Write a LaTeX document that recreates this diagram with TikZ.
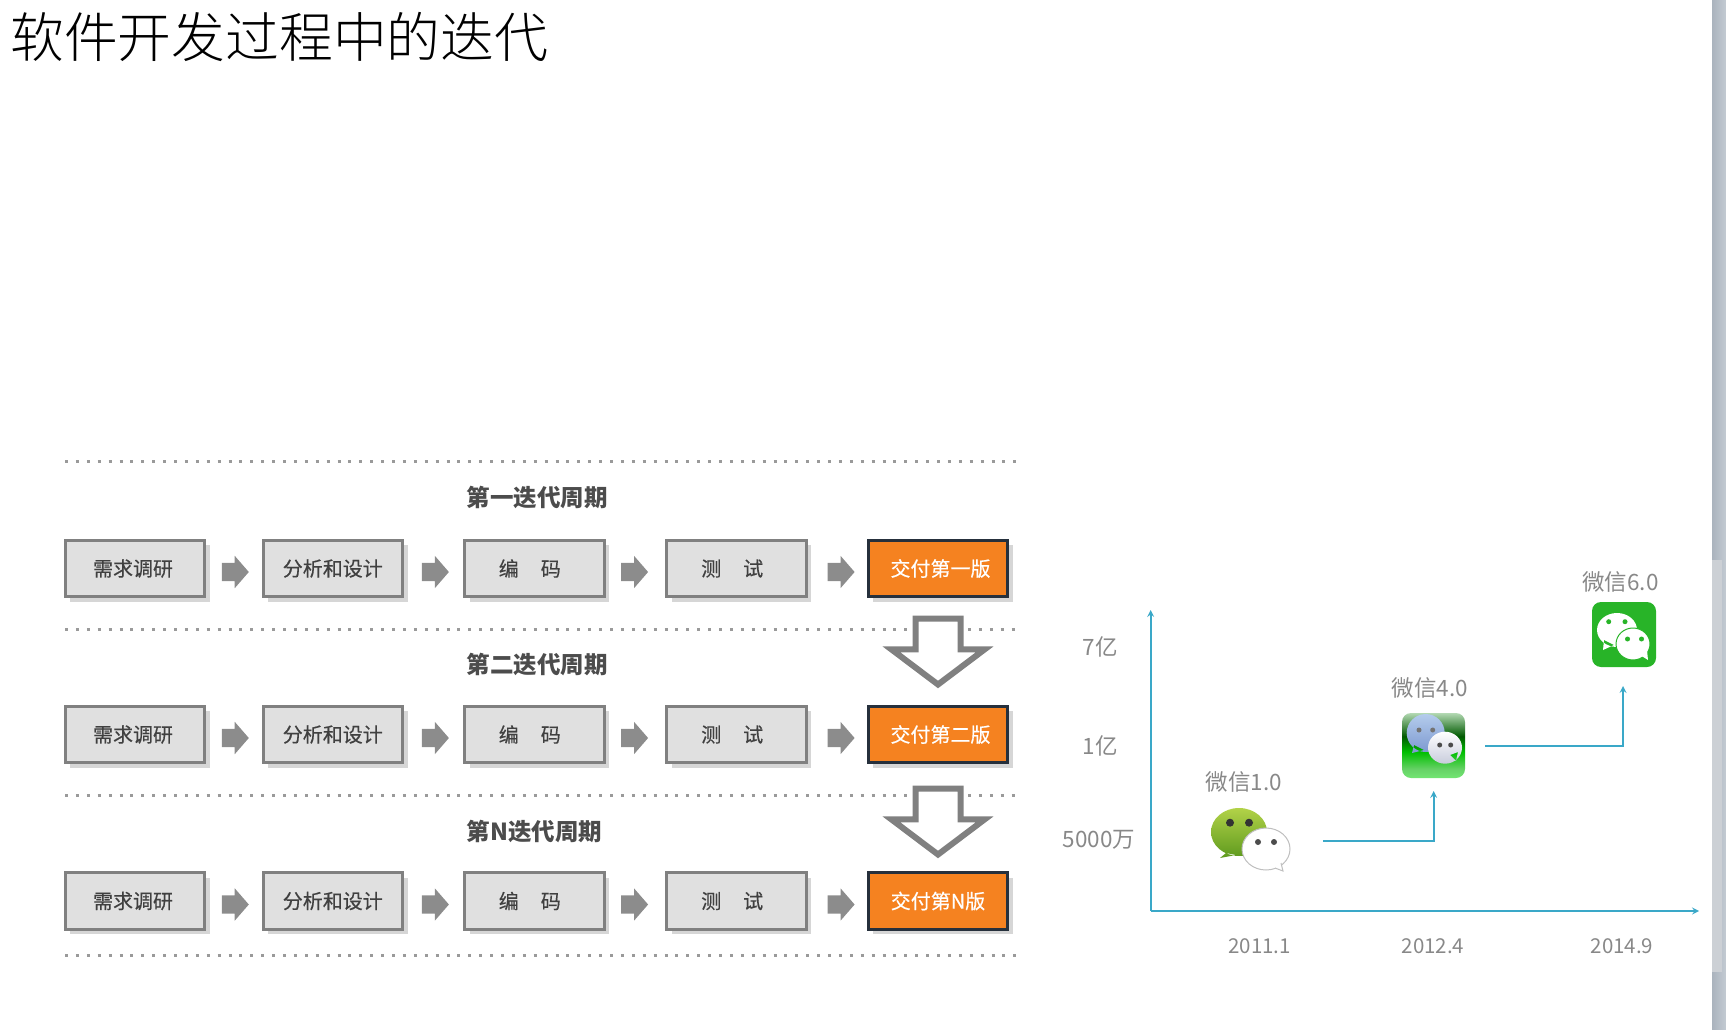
\documentclass[tikz,border=0pt]{standalone}
\usepackage{fontspec}
\setmainfont{Noto Sans CJK SC}
\newfontfamily\titlefont{Noto Sans CJK SC Light}
\newfontfamily\boxfont[FakeBold=0.35]{Noto Sans CJK SC}
\usepackage{tikz}
\usetikzlibrary{positioning, arrows, shapes.arrows, shadows}
\definecolor{boxgray}{HTML}{E0E0E0}
\definecolor{edgegray}{HTML}{808080}
\definecolor{arrowgray}{HTML}{8C8C8C}
\definecolor{shadowgray}{HTML}{D6D6D6}
\definecolor{paleorange}{HTML}{F58220}
\definecolor{darkedge}{HTML}{26303C}
\definecolor{axisblue}{HTML}{3AA8C8}
\definecolor{labelgray}{HTML}{888888}
\definecolor{limetop}{HTML}{B2D248}
\definecolor{limebottom}{HTML}{5E9A1E}
\definecolor{skytop}{HTML}{B4CCEC}
\definecolor{skybottom}{HTML}{7C98D0}
\definecolor{cloudbottom}{HTML}{C8CCDC}
\definecolor{wxgreen}{HTML}{28B428}
\definecolor{bartrack}{HTML}{AAB3BD}
\definecolor{bartrackb}{HTML}{C4CBD3}
\definecolor{barthumb}{HTML}{CCD0D5}
\pgfdeclareverticalshading{iconfour}{100bp}{color(0bp)=(green!50!white); color(25bp)=(green!50!white!90!black); color(32bp)=(green!70!black!60!white); color(45bp)=(green!75!black); color(57bp)=(green!35!black); color(75bp)=(black!50!green!30!white); color(100bp)=(black!50!green!30!white)}
\tikzset{
	stage/.style={rectangle,draw=edgegray,fill=boxgray,line width=3pt,minimum width=139.5pt,minimum height=56.5pt,inner sep=0pt,text=black!75,font=\fontsize{20}{21}\boxfont,drop shadow={shadow xshift=5pt,shadow yshift=-5pt,fill=shadowgray,opacity=1}},
	release/.style={stage,draw=darkedge,fill=paleorange,text=white},
	flowarrow/.style={single arrow,fill=arrowgray,inner xsep=0pt,inner ysep=9pt,minimum width=32pt,minimum height=27pt,single arrow head extend=7pt,single arrow tip angle=98},
	nextarrow/.style={single arrow,draw=edgegray,fill=white,line width=6pt,inner xsep=0pt,inner ysep=19.5pt,minimum width=85pt,minimum height=66pt,single arrow head extend=24pt,single arrow tip angle=106,rotate=-90,anchor=tail},
	cycle/.style={inner sep=0pt,anchor=west,text=black!70,font=\fontsize{23.5}{24}\selectfont\bfseries},
	dots/.style={edgegray!80,line width=3pt,dash pattern=on 3pt off 7.9pt},
	axis/.style={axisblue,line width=2pt,>=stealth},
	value/.style={inner sep=0pt,text=labelgray,font=\fontsize{22.5}{23}\selectfont},
	year/.style={inner sep=0pt,text=labelgray,font=\fontsize{20.5}{22}\selectfont}
}
\begin{document}
\begin{tikzpicture}[x=1pt,y=-1pt,on grid]
	\useasboundingbox (0,0) rectangle (1726,1030);
	\node[anchor=west,inner sep=0pt,font=\fontsize{53.8}{55}\titlefont] (title) at (10,37) {软件开发过程中的迭代};
	% dotted rules
	\coordinate (l0a) at (65,461.5);	\coordinate (l0b) at (1016,461.5);
	\coordinate (l1a) at (65,629);		\coordinate (l1b) at (907,629);
	\coordinate (l1c) at (968,629);		\coordinate (l1d) at (1016,629);
	\coordinate (l2a) at (65,795);		\coordinate (l2b) at (907,795);
	\coordinate (l2c) at (968,795);		\coordinate (l2d) at (1016,795);
	\coordinate (l3a) at (65,955.5);	\coordinate (l3b) at (1016,955.5);
	\draw[dots] (l0a) -- (l0b);
	\draw[dots] (l1a) -- (l1b) (l1c) -- (l1d);
	\draw[dots] (l2a) -- (l2b) (l2c) -- (l2d);
	\draw[dots] (l3a) -- (l3b);
	% first cycle
	\node[cycle] (c1) at (466.5,497.5) {第一迭代周期};
	\node[stage] (b11) at (135,568.5) {需求调研\kern4pt};
	\node[stage] (b12) [right=197.8pt of b11] {分析和设计};
	\node[stage] (b13) [right=201.5pt of b12] {编\hspace{22pt}码\kern9pt};
	\node[stage] (b14) [right=202.4pt of b13] {测\hspace{22pt}试\kern9pt};
	\node[release] (b15) [right=201.3pt of b14] {\kern5pt交付第一版};
	\node[flowarrow] (a11) [right=96.3pt of b11,yshift=-3.5pt] {};
	\node[flowarrow] (a12) [right=98.6pt of b12,yshift=-3.5pt] {};
	\node[flowarrow] (a13) [right=96.3pt of b13,yshift=-3.5pt] {};
	\node[flowarrow] (a14) [right=100.4pt of b14,yshift=-3.5pt] {};
	% second cycle
	\node[cycle] (c2) at (466.5,664.5) {第二迭代周期};
	\node[stage] (b21) [below=166pt of b11] {需求调研\kern4pt};
	\node[stage] (b22) [below=166pt of b12] {分析和设计};
	\node[stage] (b23) [below=166pt of b13] {编\hspace{22pt}码\kern9pt};
	\node[stage] (b24) [below=166pt of b14] {测\hspace{22pt}试\kern9pt};
	\node[release] (b25) [below=166pt of b15] {\kern5pt交付第二版};
	\node[flowarrow] (a21) [below=166pt of a11] {};
	\node[flowarrow] (a22) [below=166pt of a12] {};
	\node[flowarrow] (a23) [below=166pt of a13] {};
	\node[flowarrow] (a24) [below=166pt of a14] {};
	% last cycle
	\node[cycle] (c3) at (466.5,831) {第N迭代周期};
	\node[stage] (b31) [below=166.5pt of b21] {需求调研\kern4pt};
	\node[stage] (b32) [below=166.5pt of b22] {分析和设计};
	\node[stage] (b33) [below=166.5pt of b23] {编\hspace{22pt}码\kern9pt};
	\node[stage] (b34) [below=166.5pt of b24] {测\hspace{22pt}试\kern9pt};
	\node[release] (b35) [below=166.5pt of b25] {交付第N版};
	\node[flowarrow] (a31) [below=166.5pt of a21] {};
	\node[flowarrow] (a32) [below=166.5pt of a22] {};
	\node[flowarrow] (a33) [below=166.5pt of a23] {};
	\node[flowarrow] (a34) [below=166.5pt of a24] {};
	% between the cycles
	\node[nextarrow] (d1) at (938,615.5) {};
	\node[nextarrow] (d2) at (938,785.5) {};
	% axes
	\coordinate (o) at (1150.7,911);
	\coordinate (ytop) at (1150.7,610);
	\coordinate (xend) at (1699,911);
	\draw[axis,->] (o) -- (ytop);
	\draw[axis,->] (o) -- (xend);
	\node[value] (v7) at (1100,646.5) {7亿};
	\node[value] (v1) at (1100,745.5) {1亿};
	\node[value] (v5) at (1099,840) {5000万};
	\node[year] (y1) at (1259.7,946) {2011.1};
	\node[year] (y2) at (1433,946) {2012.4};
	\node[year] (y3) at (1622,946) {2014.9};
	\node[value] (w1) at (1244,782) {微信1.0};
	\node[value] (w2) at (1430,688) {微信4.0};
	\node[value] (w3) at (1620.5,582) {微信6.0};
	% steps
	\coordinate (s1) at (1323,840.7);	\coordinate (e1) at (1433.7,791);
	\coordinate (s2) at (1485,746);		\coordinate (e2) at (1623,686);
	\draw[axis,->] (s1) -| (e1);
	\draw[axis,->] (s2) -| (e2);
	% first icon
	\shade[top color=limetop,bottom color=limebottom] (1239,832) ellipse (28 and 24) (1226,853) -- (1220,858) -- (1236,855) -- cycle;
	\fill[black!80] (1230,822.7) circle (4) (1249,822.7) circle (4);
	\draw[black!25,fill=white,line width=1pt] (1266,849) ellipse (24 and 21);
	\draw[black!25,fill=white,line width=1pt] (1275,868) -- (1283,871) -- (1281,863);
	\fill[black!70] (1258,842) circle (3) (1274,842) circle (3);
	% second icon
	\shade[rounded corners=9pt,shading=iconfour] (1402,713) rectangle (1465,778);
	\shade[top color=skytop,bottom color=skybottom] (1425.7,733) ellipse (19 and 19) (1414,745) -- (1412,753) -- (1424,750) -- cycle;
	\fill[black!55] (1419,730) circle (2.5) (1432.7,730) circle (2.5);
	\shade[top color=white,bottom color=cloudbottom] (1445,747.7) ellipse (17 and 16) (1450,755) -- (1456,761) -- (1458,752) -- cycle;
	\fill[black!70] (1439.7,745) circle (2.5) (1450.7,745) circle (2.5);
	% third icon
	\fill[wxgreen,rounded corners=9pt] (1592,602) rectangle (1656,667);
	\fill[white] (1617,630) ellipse (20 and 17) (1604,640) -- (1603,650) -- (1614,645) -- cycle;
	\fill[wxgreen] (1608.7,621.7) circle (2.5) (1625,621.7) circle (2.5);
	\draw[wxgreen,fill=white,line width=1pt] (1633,644) ellipse (17 and 16);
	\fill[white] (1640,655) -- (1648,660) -- (1647,650) -- cycle;
	\fill[wxgreen] (1627.5,639) circle (2.5) (1641.5,639) circle (2.5);
	% scroll bar
	\shade[left color=bartrack,right color=bartrackb] (1712,0) rectangle (1726,1030);
	\fill[barthumb] (1712,560) rectangle (1722,972);
\end{tikzpicture}
\end{document}
